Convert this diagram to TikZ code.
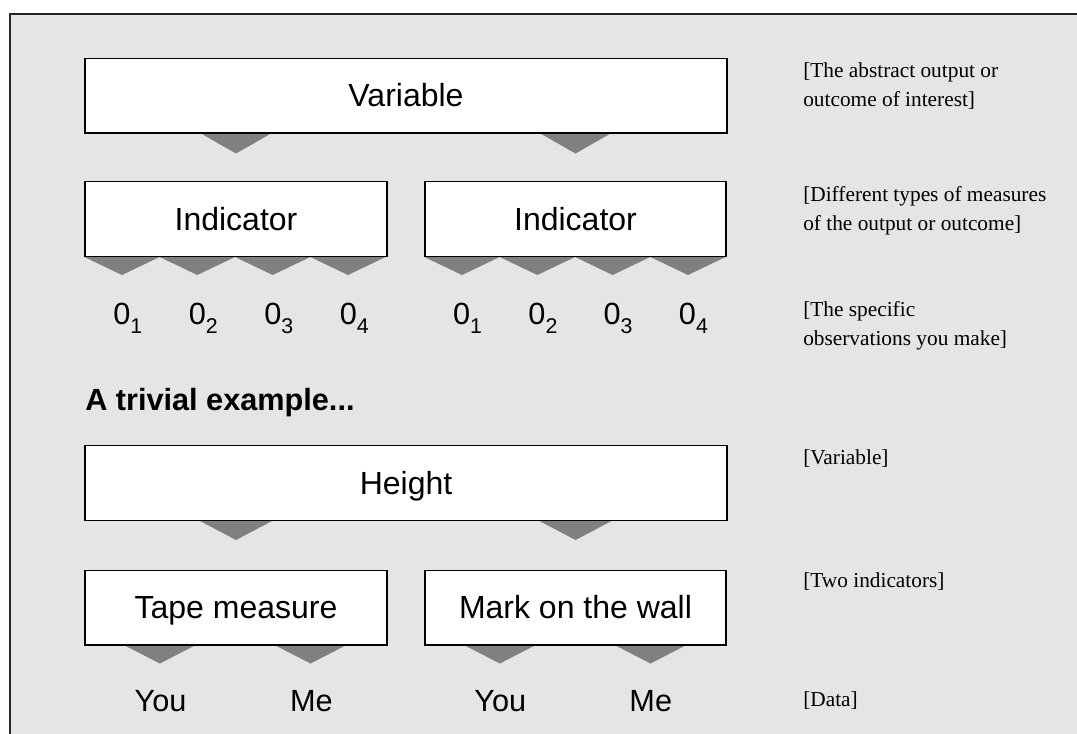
\documentclass[tikz,border=0pt]{standalone}
\usepackage{fontspec}
\setmainfont{Liberation Serif}
\setsansfont{Liberation Sans}
\usetikzlibrary{backgrounds}
\definecolor{panel}{gray}{0.9}
\definecolor{dropgray}{gray}{0.5}
\newcommand{\obslabel}[1]{0\raisebox{-7pt}{\fontsize{16}{16}\selectfont #1}}

\begin{document}
\begin{tikzpicture}[x=0.75pt, y=-0.75pt]
\tikzstyle{box}=[draw, fill=white, line width=1pt, inner sep=0pt, minimum height=56pt,
  font=\sffamily\fontsize{24}{28}\selectfont, text height=17.2pt, text depth=0pt]
\tikzstyle{obs}=[anchor=base, inner sep=0pt, font=\sffamily\fontsize{23}{28}\selectfont]
\tikzstyle{note}=[anchor=base west, align=left, inner sep=0pt, font=\fontsize{16}{21.75}\selectfont]
\tikzstyle{drop}=[fill=dropgray]
\useasboundingbox (0,0) rectangle (1077,733);
\begin{scope}[on background layer]
\fill[panel] (10,14) rectangle (1077,740);
\draw[line width=1.1pt, black!85] (10,740) -- (10,14) -- (1077,14);
\end{scope}
% upper scheme
\node[box, minimum width=481.5pt] (var) at (406,95.5) {Variable};
\node[box, minimum width=226.5pt] (ind1) at (236,219) {Indicator};
\node[box, minimum width=225.75pt] (ind2) at (575.5,219) {Indicator};
\foreach \k/\x in {1/122.75, 2/198.25, 3/273.75, 4/349.25}
  \node[obs] (oa\k) at (\x+5,324) {\obslabel{\k}};
\foreach \k/\x in {1/462.6, 2/537.9, 3/613.1, 4/688.4}
  \node[obs] (ob\k) at (\x+5,324) {\obslabel{\k}};
% example
\node[anchor=base west, inner sep=0pt, font=\sffamily\bfseries\fontsize{23}{28}\selectfont] (ex) at (85,410) {A trivial example...};
\node[box, minimum width=481.5pt] (height) at (406,483) {Height};
\node[box, minimum width=226.5pt] (tape) at (236,607.5) {Tape measure};
\node[box, minimum width=225.75pt] (mark) at (575.5,607.5) {Mark on the wall};
\node[obs] (you1) at (160.5,711) {You};
\node[obs] (me1) at (311.5,711) {Me};
\node[obs] (you2) at (500.25,711) {You};
\node[obs] (me2) at (650.75,711) {Me};
% side notes
\node[note] (n1) at (803,106) {[The abstract output or\\outcome of interest]};
\node[note] (n2) at (803,230) {[Different types of measures\\of the output or outcome]};
\node[note] (n3) at (803,345) {[The specific\\observations you make]};
\node[note] (n4) at (803,464) {[Variable]};
\node[note] (n5) at (803,587) {[Two indicators]};
\node[note] (n6) at (803,706) {[Data]};
% drops
\begin{scope}[on background layer]
\foreach \b in {ind1, ind2}
  \fill[drop] (var.south -| \b) ++(-35,0) -- ++(70,0) -- ++(-35,20) -- cycle;
\foreach \b in {tape, mark}
  \fill[drop] (height.south -| \b) ++(-36,0) -- ++(72,0) -- ++(-36,19) -- cycle;
\foreach \b in {ind1, ind2}
  \foreach \i in {0,...,3}
    \fill[drop] ([xshift=\i*56.5pt]\b.south west) -- ++(75.3,0) -- ++(-37.65,18) -- cycle;
\foreach \b in {tape, mark}
  \foreach \i in {0,1}
    \fill[drop] ([xshift=\i*113pt]\b.south west) ++(40.5,0) -- ++(70,0) -- ++(-35,18) -- cycle;
\end{scope}
\end{tikzpicture}
\end{document}
